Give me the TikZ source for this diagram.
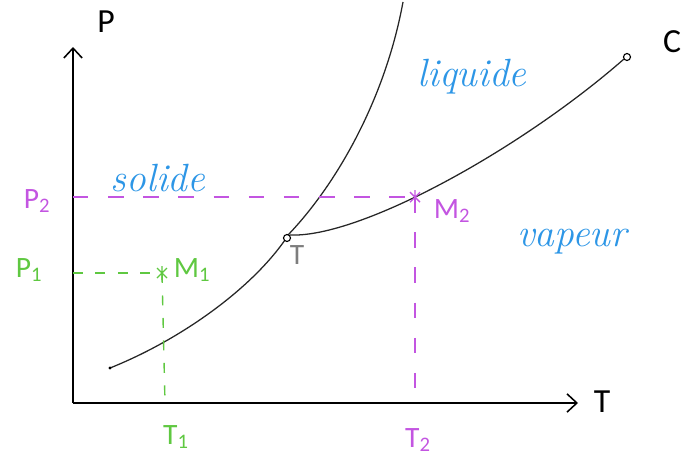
\documentclass[tikz,border=0pt]{standalone}
\usepackage{fontspec}
\setsansfont{Carlito}
\usetikzlibrary{arrows.meta, positioning}
\definecolor{cMagenta}{RGB}{195,85,225}
\definecolor{cGreen}{RGB}{95,200,65}
\definecolor{cBlue}{RGB}{45,150,230}
\definecolor{cGrayT}{RGB}{125,125,125}
\tikzset{
  axis/.style={line width=1.4pt, -{Straight Barb[length=7pt, width=13pt, line width=1.1pt]}},
  curve/.style={line width=0.9pt, black!85},
  magdash/.style={line width=1.1pt, draw=cMagenta, dash pattern=on 11pt off 14pt},
  greendash/.style={line width=1pt, draw=cGreen, dash pattern=on 7pt off 9pt},
  axislabel/.style={font=\sffamily\fontsize{24}{26}\selectfont},
  ptlabel/.style={font=\sffamily\fontsize{21}{24}\selectfont},
  region/.style={font=\itshape\fontsize{28}{30}\selectfont, text=cBlue},
  asterisk/.pic={\draw[line width=0.9pt] (-5,-5) -- (5,5) (-5,5) -- (5,-5) (0,-7) -- (0,7);}
}
\begin{document}
\begin{tikzpicture}[x=0.025cm, y=-0.025cm]
  \useasboundingbox (0,0) rectangle (699,467);
  % axes
  \coordinate (O) at (73,403);
  \coordinate (ptop) at (73,47);
  \coordinate (tend) at (578,403);
  \draw[axis] (O) -- (ptop);
  \draw[axis] (O) -- (tend);
  \node[axislabel] (plabel) at (106,22) {P};
  \node[axislabel] (tlabel) at (602,402) {T};

  % phase boundaries
  \coordinate (sub0) at (110,368);
  \coordinate (trip) at (287,238);
  \coordinate (fus1) at (403,2);
  \coordinate (crit) at (627,57);
  \draw[curve] (sub0) .. controls (180,340) and (250,290) .. ([shift={(-2,2)}]trip);
  \draw[curve] ([shift={(1,-3)}]trip) .. controls (336,185) and (385,100) .. (fus1);
  \draw[curve] ([shift={(3,-3)}]trip) .. controls (360,238) and (520,150) .. ([shift={(-3,2)}]crit)
    coordinate[pos=0.42] (M2);
  \fill (sub0) circle (1.6);
  \draw[line width=0.8pt] (trip) circle (3.5);
  \draw[line width=0.8pt] (crit) circle (3.5);
  \node[ptlabel, text=cGrayT] (tlab) at (297,255) {T};
  \node[axislabel] (clabel) at (672,42) {C};

  % point M2
  \coordinate (P2ax) at (O |- M2);
  \coordinate (T2ax) at (M2 |- O);
  \draw[magdash] (P2ax) -- (M2);
  \draw[magdash] (M2) -- (T2ax);
  \pic[color=cMagenta] at (M2) {asterisk};
  \node[ptlabel, text=cMagenta] (p2lab) at (37,201) {P\textsubscript{2}};
  \node[ptlabel, text=cMagenta] (t2lab) at (418,440) {T\textsubscript{2}};
  \node[ptlabel, text=cMagenta] (m2lab) at (452,211) {M\textsubscript{2}};

  % point M1
  \coordinate (M1) at (162,273);
  \coordinate (P1ax) at (O |- M1);
  \coordinate (T1ax) at (165,403);
  \draw[greendash] (P1ax) -- (M1);
  \draw[greendash] (M1) -- (T1ax);
  \pic[color=cGreen] at (M1) {asterisk};
  \node[ptlabel, text=cGreen] (p1lab) at (29,270) {P\textsubscript{1}};
  \node[ptlabel, text=cGreen] (t1lab) at (176,437) {T\textsubscript{1}};
  \node[ptlabel, text=cGreen] (m1lab) at (192,270) {M\textsubscript{1}};

  % regions
  \node[region] (solide) at (158,178) {solide};
  \node[region] (liquide) at (472,77) {liquide};
  \node[region] (vapeur) at (572,242) {vapeur};
\end{tikzpicture}
\end{document}
